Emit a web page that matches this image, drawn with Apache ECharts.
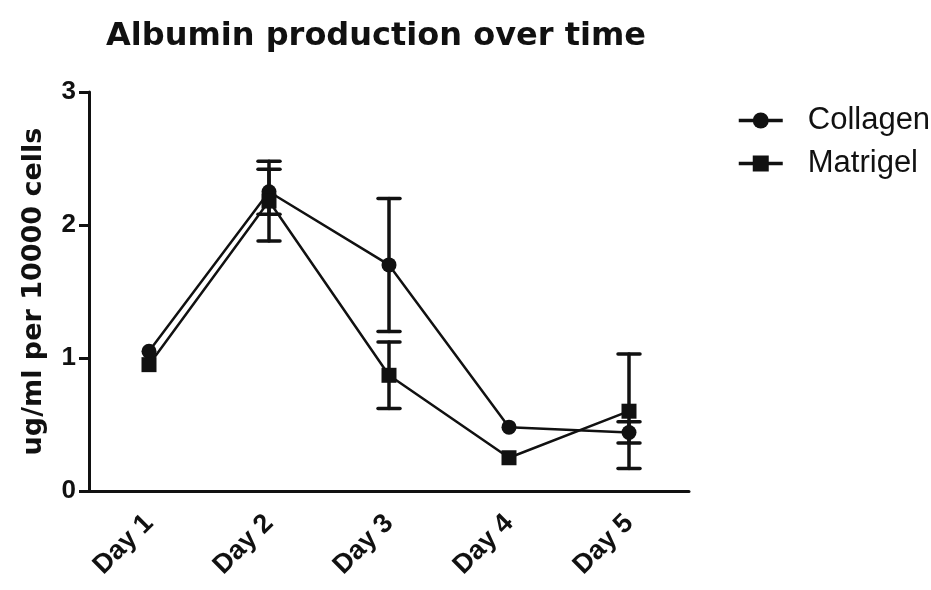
<!DOCTYPE html>
<html><head><meta charset="utf-8">
<script src="https://cdn.jsdelivr.net/npm/echarts@6/dist/echarts.min.js"></script>
<style>html,body{margin:0;padding:0;background:#fff}#c{width:931px;height:590px}</style>
</head><body><div id="c"></div>
<script>
const categories = ['Day 1','Day 2','Day 3','Day 4','Day 5'];
const collagen = [1.05, 2.25, 1.70, 0.48, 0.44];
const collagenErr = [0, 0.17, 0.50, 0, 0.08];
const matrigel = [0.95, 2.18, 0.87, 0.25, 0.60];
const matrigelErr = [0, 0.30, 0.25, 0, 0.43];
const yTicks = [0, 1, 2, 3];

const chart = echarts.init(document.getElementById('c'));
const FONT = 'Liberation Sans, Arial, sans-serif';
const WIDE = 'DejaVu Sans, sans-serif';

function errData(vals, errs) {
  return vals.map((v, i) => [i, v - errs[i], v + errs[i], errs[i]]);
}
function errSeries(id, vals, errs) {
  return {
    type: 'custom', id: id, name: id, z: 1, legendHoverLink: false,
    data: errData(vals, errs),
    encode: { x: 0, y: [1, 2] },
    renderItem: function (params, api) {
      if (!api.value(3)) return null;
      const x = api.value(0);
      const lo = api.coord([x, api.value(1)]);
      const hi = api.coord([x, api.value(2)]);
      const w = 11;
      const style = { stroke: '#111', lineWidth: 3.5, lineCap: 'round' };
      return { type: 'group', children: [
        { type: 'line', shape: { x1: lo[0], y1: lo[1], x2: hi[0], y2: hi[1] }, style: style },
        { type: 'line', shape: { x1: lo[0]-w, y1: lo[1], x2: lo[0]+w, y2: lo[1] }, style: style },
        { type: 'line', shape: { x1: hi[0]-w, y1: hi[1], x2: hi[0]+w, y2: hi[1] }, style: style }
      ]};
    }
  };
}

chart.setOption({
  animation: false,
  color: ['#111'],
  backgroundColor: '#fff',
  title: {
    text: 'Albumin production over time', left: 371, top: 16, textAlign: 'center',
    textStyle: { fontFamily: WIDE, fontSize: 32, fontWeight: 'bold', color: '#111' }
  },
  legend: {
    left: 732, top: 100, orient: 'vertical', itemGap: 12, itemWidth: 44, itemHeight: 20,
    data: ['Collagen', 'Matrigel'],
    lineStyle: { width: 3.5 },
    textStyle: { fontFamily: FONT, fontSize: 31, color: '#111', padding: [0,0,0,20] }
  },
  grid: { left: 89, right: 242, top: 92, bottom: 99, containLabel: false },
  xAxis: {
    type: 'category', data: categories, boundaryGap: true,
    axisLine: { lineStyle: { color: '#111', width: 3 } },
    axisTick: { alignWithLabel: true, length: 10, lineStyle: { color: '#111', width: 3 } },
    axisLabel: { rotate: 45, margin: 28, fontFamily: FONT, fontSize: 27, fontWeight: 'bold', color: '#111' }
  },
  yAxis: {
    type: 'value', min: yTicks[0], max: yTicks[yTicks.length-1], interval: 1,
    name: 'ug/ml per 10000 cells', nameLocation: 'middle', nameGap: 42, nameRotate: 90,
    nameTextStyle: { fontFamily: WIDE, fontSize: 27, fontWeight: 'bold', color: '#111' },
    splitLine: { show: false },
    axisLine: { show: true, lineStyle: { color: '#111', width: 3 } },
    axisTick: { show: true, length: 10, lineStyle: { color: '#111', width: 3 } },
    axisLabel: { margin: 13, fontFamily: FONT, fontSize: 26, fontWeight: 'bold', color: '#111' }
  },
  series: [
    errSeries('errC', collagen, collagenErr),
    errSeries('errM', matrigel, matrigelErr),
    {
      name: 'Collagen', type: 'line', data: collagen, z: 3,
      symbol: 'circle', symbolSize: 15,
      lineStyle: { color: '#111', width: 2.5 }, itemStyle: { color: '#111' }
    },
    {
      name: 'Matrigel', type: 'line', data: matrigel, z: 3,
      symbol: 'rect', symbolSize: 15,
      lineStyle: { color: '#111', width: 2.5 }, itemStyle: { color: '#111' }
    }
  ]
});
</script></body></html>
